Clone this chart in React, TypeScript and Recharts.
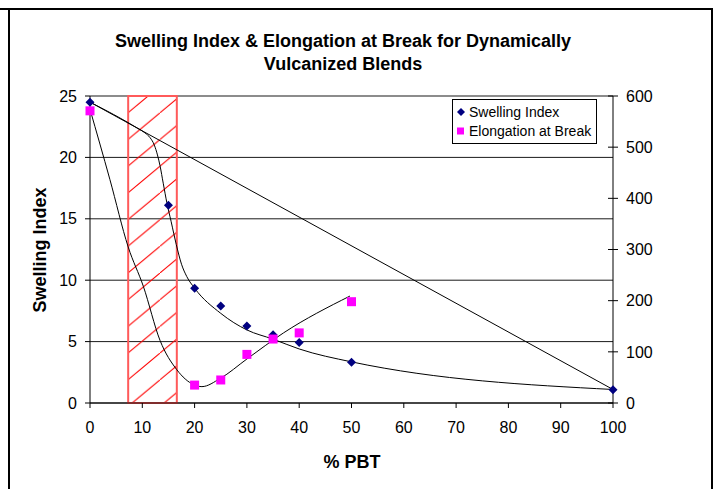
import React from "react";
import {
  ComposedChart,
  Scatter,
  Line,
  XAxis,
  YAxis,
  CartesianGrid,
  ReferenceArea,
  Legend,
} from "recharts";

// measured points
const pbt = [0, 15, 20, 25, 30, 35, 40, 50, 100];
const swellingIndex = [24.5, 16.1, 9.35, 7.9, 6.27, 5.55, 4.92, 3.32, 1.08];

const elongPbt = [0, 20, 25, 30, 35, 40, 50];
const elongation = [571, 35, 45, 95, 125, 137, 198];

// hand drawn trend curves
const straightX = [0, 100];
const straightY = [24.5, 1.1];

const swellFitX = [0, 9, 10.5, 11.5, 12.3, 12.9, 13.4, 14.0, 14.7, 15.5, 16.5, 17.5, 18.5, 20, 25, 30, 35, 40, 50, 100];
const swellFitY = [24.5, 22.4, 22.0, 21.6, 21.0, 20.2, 19.3, 17.9, 16.3, 14.8, 12.9, 11.3, 10.3, 9.35, 7.3, 5.95, 5.2, 4.4, 3.35, 1.1];

const elongFitX = [0, 3.8, 7.3, 10.2, 13.4, 16.6, 19.8, 21.4, 24.9, 30, 37, 49.7];
const elongFitY = [574, 437, 305, 228, 122, 65, 36, 32, 48, 86, 137, 209];

// shaded (hatched) band on the x axis
const bandX = [7.3, 16.6];

const xTicks = [0, 10, 20, 30, 40, 50, 60, 70, 80, 90, 100];
const leftTicks = [0, 5, 10, 15, 20, 25];
const rightTicks = [0, 100, 200, 300, 400, 500, 600];

const zip = (xs: number[], ys: number[]) => xs.map((x, i) => ({ x, y: ys[i] }));

const FONT = "'Liberation Sans', Arial, sans-serif";

const Diamond = (p: any) => (
  <polygon
    points={`${p.cx},${p.cy - 4.5} ${p.cx + 4.5},${p.cy} ${p.cx},${p.cy + 4.5} ${p.cx - 4.5},${p.cy}`}
    fill="#000080"
  />
);

const Square = (p: any) => (
  <rect x={p.cx - 4.5} y={p.cy - 4.5} width={9} height={9} fill="#ff00ff" />
);

function RightTick(props: any) {
  const { x, y, payload } = props;
  const ax = x - 13;
  return (
    <g>
      <line x1={ax - 5} x2={ax + 5} y1={y} y2={y} stroke="#000" />
      <text x={ax + 13} y={y} dy="0.355em" fontSize={16} fill="#000" fontFamily={FONT}>
        {payload.value}
      </text>
    </g>
  );
}

function LegendBox() {
  const row = { display: "flex", alignItems: "center", height: 19 } as const;
  return (
    <div
      style={{
        border: "1px solid #000",
        background: "#fff",
        width: 143,
        height: 41,
        boxSizing: "content-box",
        fontFamily: FONT,
        fontSize: 14,
        color: "#000",
        paddingTop: 2,
      }}
    >
      <div style={row}>
        <svg width={16} height={10}>
          <polygon points="8,1 12,5 8,9 4,5" fill="#000080" />
        </svg>
        <span>Swelling Index</span>
      </div>
      <div style={row}>
        <svg width={16} height={10}>
          <rect x={4} y={1.5} width={7} height={7} fill="#ff00ff" />
        </svg>
        <span>Elongation at Break</span>
      </div>
    </div>
  );
}

export default function App() {
  return (
    <div
      style={{
        position: "absolute",
        left: 0,
        top: 0,
        width: 719,
        height: 489,
        overflow: "hidden",
        background: "#fff",
        fontFamily: FONT,
      }}
    >
      <div style={{ position: "absolute", left: 0, top: 8, width: 713, height: 2, background: "#000" }} />
      <div style={{ position: "absolute", left: 8, top: 8, width: 2, height: 481, background: "#000" }} />
      <div style={{ position: "absolute", left: 711, top: 8, width: 2, height: 481, background: "#000" }} />

      <div
        style={{
          position: "absolute",
          left: 43,
          top: 30,
          width: 600,
          textAlign: "center",
          fontWeight: "bold",
          fontSize: 18,
          lineHeight: "23px",
          color: "#000",
        }}
      >
        <div>Swelling Index &amp; Elongation at Break for Dynamically</div>
        <div>Vulcanized Blends</div>
      </div>

      <div style={{ position: "absolute", left: 0, top: 0 }}>
        <ComposedChart
          width={719}
          height={489}
          margin={{ top: 96, right: 46, bottom: 46, left: 30 }}
        >
          <defs>
            <pattern id="hatch" patternUnits="userSpaceOnUse" width={32} height={26.7} y={6}>
              <line x1={0} y1={26.7} x2={32} y2={0} stroke="#ff0000" strokeWidth={1} />
            </pattern>
          </defs>
          <ReferenceArea
            yAxisId="left"
            x1={bandX[0]}
            x2={bandX[1]}
            y1={0}
            y2={25}
            fill="url(#hatch)"
            fillOpacity={1}
            stroke="#ff5a5a"
            strokeWidth={2}
          />
          <CartesianGrid yAxisId="left" vertical={false} stroke="#000" strokeOpacity={0.9} />
          <XAxis
            type="number"
            dataKey="x"
            domain={[0, 100]}
            ticks={xTicks}
            interval={0}
            height={40}
            tickSize={5}
            tickMargin={14}
            stroke="#000"
            tick={{ fill: "#000", fontSize: 16, fontFamily: FONT }}
          />
          <YAxis
            yAxisId="left"
            type="number"
            dataKey="y"
            domain={[0, 25]}
            ticks={leftTicks}
            interval={0}
            width={60}
            tickSize={5}
            tickMargin={8}
            stroke="#000"
            tick={{ fill: "#000", fontSize: 16, fontFamily: FONT }}
          />
          <YAxis
            yAxisId="right"
            orientation="right"
            type="number"
            dataKey="y"
            domain={[0, 600]}
            ticks={rightTicks}
            interval={0}
            width={60}
            tickSize={5}
            tickMargin={8}
            tickLine={false}
            stroke="#000"
            tick={<RightTick />}
          />

          <Line
            yAxisId="left"
            data={zip(straightX, straightY)}
            dataKey="y"
            type="linear"
            stroke="#000"
            strokeWidth={1}
            dot={false}
            activeDot={false}
            legendType="none"
            isAnimationActive={false}
          />
          <Line
            yAxisId="left"
            data={zip(swellFitX, swellFitY)}
            dataKey="y"
            type="monotone"
            stroke="#000"
            strokeWidth={1}
            dot={false}
            activeDot={false}
            legendType="none"
            isAnimationActive={false}
          />
          <Line
            yAxisId="right"
            data={zip(elongFitX, elongFitY)}
            dataKey="y"
            type="monotone"
            stroke="#000"
            strokeWidth={1}
            dot={false}
            activeDot={false}
            legendType="none"
            isAnimationActive={false}
          />

          <Scatter
            yAxisId="left"
            name="Swelling Index"
            data={zip(pbt, swellingIndex)}
            shape={<Diamond />}
            isAnimationActive={false}
          />
          <Scatter
            yAxisId="right"
            name="Elongation at Break"
            data={zip(elongPbt, elongation)}
            shape={<Square />}
            isAnimationActive={false}
          />

          <Legend
            layout="vertical"
            align="center"
            verticalAlign="middle"
            wrapperStyle={{ left: 452, top: 99, width: 145, height: 43 }}
            content={() => <LegendBox />}
          />
        </ComposedChart>
      </div>

      <div
        style={{
          position: "absolute",
          left: 40,
          top: 250,
          transform: "translate(-50%, -50%) rotate(-90deg)",
          fontWeight: "bold",
          fontSize: 18,
          whiteSpace: "nowrap",
          color: "#000",
        }}
      >
        Swelling Index
      </div>
      <div
        style={{
          position: "absolute",
          left: 252,
          top: 452,
          width: 200,
          textAlign: "center",
          fontWeight: "bold",
          fontSize: 18,
          lineHeight: "21px",
          color: "#000",
        }}
      >
        % PBT
      </div>
    </div>
  );
}
